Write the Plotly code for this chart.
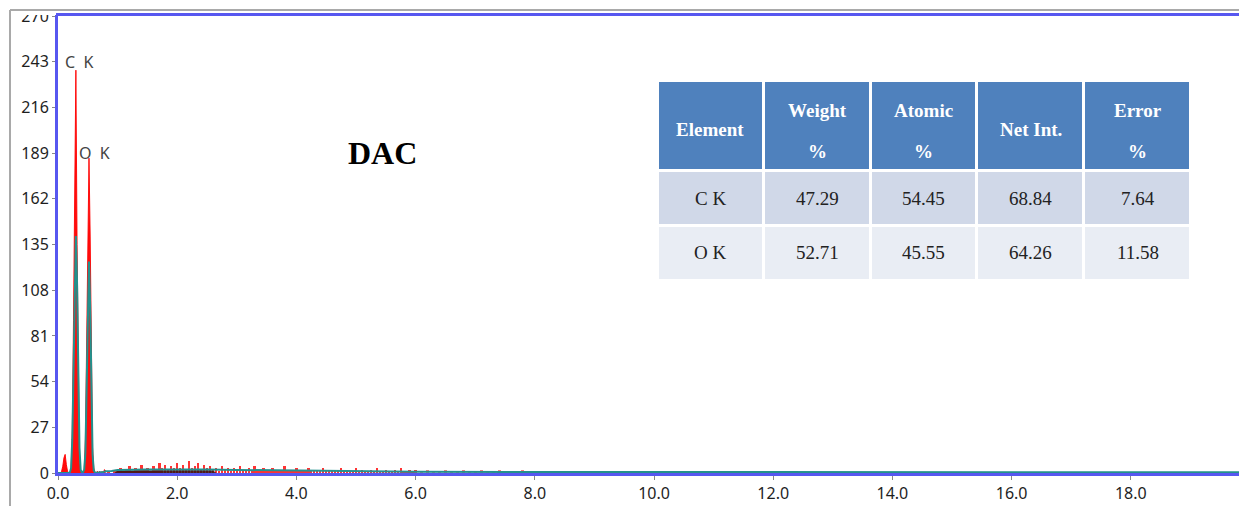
import plotly.graph_objects as go

# ---------------- data ----------------
# fine channels around the C K / O K peaks (keV)
PEAK_E = [0.00, 0.02, 0.04, 0.06, 0.08, 0.10, 0.12, 0.14, 0.16, 0.18,
          0.20, 0.22, 0.24, 0.26, 0.28, 0.30, 0.32, 0.34, 0.36, 0.38,
          0.40, 0.42, 0.44, 0.46, 0.48, 0.50, 0.52, 0.54, 0.56, 0.58,
          0.60, 0.62, 0.64, 0.66, 0.68, 0.70, 0.72, 0.74, 0.76, 0.78,
          0.80]
PEAK_COUNTS = [0, 0, 0, 1, 4, 9, 11, 5, 1, 0,
               0, 2, 25, 90, 165, 238, 135, 45, 8, 1,
               0, 0, 2, 20, 80, 150, 186, 140, 60, 15,
               3, 0, 0, 1, 0, 1, 0, 1, 0, 2,
               1]
PEAK_FIT = [0, 0, 0, 0, 0, 0, 0, 0, 0, 0,
            0.5, 3, 20, 62, 118, 140, 112, 55, 15, 2,
            0.3, 0.5, 2, 12, 52, 105, 125, 98, 45, 11,
            1.5, 0.3, 0.2, 0.2, 0.2, 0.3, 0.4, 0.5, 0.6, 0.8,
            1.0]

NOISE_E1 = [0.85, 0.90, 0.95, 1.00, 1.05, 1.10, 1.15, 1.20, 1.25, 1.30,
            1.35, 1.40, 1.45, 1.50, 1.55, 1.60, 1.65, 1.70, 1.75, 1.80,
            1.85, 1.90, 1.95, 2.00, 2.05, 2.10, 2.15, 2.20, 2.25, 2.30,
            2.35, 2.40, 2.45, 2.50, 2.55, 2.60, 2.65, 2.70, 2.75, 2.80,
            2.85, 2.90, 2.95, 3.00, 3.05, 3.10, 3.15, 3.20, 3.25, 3.30,
            3.35, 3.40, 3.45, 3.50, 3.55, 3.60, 3.65, 3.70, 3.75, 3.80,
            3.85, 3.90, 3.95, 4.00, 4.05, 4.10, 4.15, 4.20, 4.25, 4.30,
            4.35, 4.40, 4.45, 4.50, 4.55, 4.60, 4.65, 4.70, 4.75, 4.80,
            4.85, 4.90, 4.95, 5.00, 5.05, 5.10, 5.15, 5.20, 5.25, 5.30,
            5.35, 5.40, 5.45, 5.50, 5.55, 5.60, 5.65, 5.70, 5.75, 5.80,
            5.85, 5.90, 5.95, 6.00]
NOISE_C1 = [1, 0, 2, 1, 3, 1, 2, 4, 1, 3,
            2, 5, 2, 3, 1, 4, 2, 6, 3, 5,
            2, 4, 3, 6, 3, 5, 2, 7, 3, 4,
            6, 2, 5, 3, 4, 2, 3, 1, 4, 2,
            3, 1, 3, 2, 4, 1, 2, 3, 1, 4,
            2, 1, 3, 2, 1, 3, 2, 1, 2, 4,
            1, 2, 1, 3, 1, 2, 1, 3, 1, 2,
            1, 2, 3, 1, 2, 1, 2, 1, 3, 1,
            2, 1, 1, 3, 1, 2, 1, 1, 2, 1,
            3, 1, 1, 2, 1, 1, 2, 1, 3, 1,
            1, 2, 1, 2]

NOISE_E2 = [6.1, 6.2, 6.3, 6.4, 6.5, 6.6, 6.7, 6.8, 6.9, 7.0,
            7.1, 7.2, 7.3, 7.4, 7.5, 7.6, 7.7, 7.8, 7.9, 8.0,
            8.1, 8.2, 8.3, 8.4, 8.5, 8.6, 8.7, 8.8, 8.9, 9.0,
            9.1, 9.2, 9.3, 9.4, 9.5, 9.6, 9.7, 9.8, 9.9, 10.0,
            10.1, 10.2, 10.3, 10.4, 10.5, 10.6, 10.7, 10.8, 10.9, 11.0,
            11.1, 11.2, 11.3, 11.4, 11.5, 11.6, 11.7, 11.8, 11.9, 12.0,
            12.1, 12.2, 12.3, 12.4, 12.5, 12.6, 12.7, 12.8, 12.9, 13.0,
            13.5, 14.0, 14.5]
NOISE_C2 = [1.2, 2.0, 0.8, 1.0, 1.8, 0.7, 1.1, 1.6, 0.8, 1.0,
            1.5, 0.7, 1.0, 1.6, 0.8, 0.9, 1.0, 1.5, 0.6, 1.0,
            1.4, 0.7, 0.9, 1.3, 0.6, 0.8, 1.2, 0.6, 0.8, 1.2,
            0.7, 0.8, 0.6, 1.2, 0.7, 0.6, 0.8, 1.1, 0.6, 0.7,
            0.8, 0.6, 1.1, 0.6, 0.7, 0.6, 0.8, 1.0, 0.5, 0.6,
            0.7, 0.5, 0.6, 1.0, 0.5, 0.6, 0.5, 0.7, 0.5, 0.6,
            0.5, 0.6, 0.9, 0.5, 0.5, 0.6, 0.5, 0.8, 0.4, 0.5,
            0.3, 0.8, 0.2]

BG_E = [0.90, 1.00, 1.50, 2.00, 2.50, 3.00, 3.50, 4.00, 4.50, 5.00,
        6.00, 8.00, 10.0, 12.0, 14.0, 16.0, 18.0, 19.9]
BG_FIT = [1.2, 1.8, 2.0, 2.1, 2.0, 1.8, 1.6, 1.4, 1.2, 1.0,
          0.8, 0.6, 0.5, 0.4, 0.4, 0.4, 0.4, 0.4]

DARK_E = [0.95, 1.00, 1.20, 1.40, 1.60, 1.80, 2.00, 2.20, 2.40, 2.60, 2.65]
DARK_C = [0.0, 1.3, 1.4, 1.5, 1.6, 1.6, 1.6, 1.5, 1.5, 1.4, 0.0]

Y_TICKS = [0, 27, 54, 81, 108, 135, 162, 189, 216, 243, 270]
X_TICKS = [0, 2, 4, 6, 8, 10, 12, 14, 16, 18]

PEAK_LABELS = ["C\u00a0\u00a0K", "O\u00a0\u00a0K"]
PEAK_LABEL_POS = [(0.085, 243), (0.32, 189)]
SAMPLE = "DAC"

TABLE_HEAD_1 = ["", "Weight", "Atomic", "", "Error"]
TABLE_HEAD_2 = ["", "%", "%", "", "%"]
TABLE_HEAD_SINGLE = ["Element", "", "", "Net Int.", ""]
ELEMENTS = ["C K", "O K"]
WEIGHT = ["47.29", "52.71"]
ATOMIC = ["54.45", "45.55"]
NET_INT = ["68.84", "64.26"]
ERROR = ["7.64", "11.58"]

# ---------------- figure ----------------
W, H = 1239, 506
ML, MR, MT, MB = 58, 0, 16, 33
PW, PH = W - ML - MR, H - MT - MB


def px(xp):
    return (xp - ML) / PW


def py(yp):
    return (H - MB - yp) / PH


fig = go.Figure()
# spectrum: peak region as filled area
fig.add_trace(go.Scatter(x=PEAK_E, y=PEAK_COUNTS, mode="lines", fill="tozeroy",
                         line=dict(color="rgba(255,0,0,0.9)", width=1),
                         fillcolor="rgba(255,0,0,0.95)", hoverinfo="skip"))
# spectrum: noisy continuum as thin spikes
fig.add_trace(go.Bar(x=NOISE_E1, y=NOISE_C1, width=0.04,
                     marker=dict(color="rgba(255,0,0,0.8)", line=dict(width=0)),
                     hoverinfo="skip"))
fig.add_trace(go.Bar(x=NOISE_E2, y=NOISE_C2, width=0.05,
                     marker=dict(color="rgba(255,40,40,0.6)", line=dict(width=0)),
                     hoverinfo="skip"))
fig.add_trace(go.Scatter(x=DARK_E, y=DARK_C, mode="lines", fill="tozeroy",
                         line=dict(color="#3a1515", width=0.5),
                         fillcolor="rgba(50,20,20,0.85)", hoverinfo="skip"))
fig.add_trace(go.Scatter(x=PEAK_E + BG_E, y=PEAK_FIT + BG_FIT, mode="lines",
                         line=dict(color="#23918d", width=2.0), hoverinfo="skip"))

# table cells (geometry); text drawn as annotations for exact placement
tab_x0, tab_x1 = px(657), px(1191)
tab_y0, tab_y1 = py(280), py(80)
fig.add_trace(go.Table(
    domain=dict(x=[tab_x0, tab_x1], y=[tab_y0, tab_y1]),
    columnwidth=[1, 1, 1, 1, 1],
    header=dict(values=[" "] * 5, height=90, fill_color="#4f81bd",
                line=dict(color="white", width=3), font=dict(size=2, color="#4f81bd")),
    cells=dict(values=[[" ", " "]] * 5, height=55,
               fill_color=[["#d0d8e8", "#e9edf4"]] * 5,
               line=dict(color="white", width=3), font=dict(size=2, color="#e9edf4")),
))

annotations = []
col_c = [710, 817, 923.5, 1030.5, 1137.5]
head_font = dict(family="Liberation Serif", size=19, color="white")
body_font = dict(family="Liberation Serif", size=19, color="#222222")


def paper_text(x, y, text, font):
    return dict(x=px(x), y=py(y), xref="paper", yref="paper", text=text,
                showarrow=False, xanchor="center", yanchor="middle", font=font)


for i, cx in enumerate(col_c):
    if TABLE_HEAD_SINGLE[i]:
        annotations.append(paper_text(cx, 129, "<b>%s</b>" % TABLE_HEAD_SINGLE[i], head_font))
    if TABLE_HEAD_1[i]:
        annotations.append(paper_text(cx, 110, "<b>%s</b>" % TABLE_HEAD_1[i], head_font))
        annotations.append(paper_text(cx, 151, "<b>%s</b>" % TABLE_HEAD_2[i], head_font))
rows = [ELEMENTS, WEIGHT, ATOMIC, NET_INT, ERROR]
for i, cx in enumerate(col_c):
    for j, ry in enumerate([198, 253]):
        annotations.append(paper_text(cx, ry, rows[i][j], body_font))

for lab, (lx, ly) in zip(PEAK_LABELS, PEAK_LABEL_POS):
    annotations.append(dict(x=lx, y=ly, xref="x", yref="y", text=lab, showarrow=False,
                            xanchor="left", yanchor="middle",
                            font=dict(family="Noto Sans", size=16, color="#444444")))
annotations.append(dict(x=5.45, y=189, xref="x", yref="y", text="<b>%s</b>" % SAMPLE,
                        showarrow=False, xanchor="center", yanchor="middle",
                        font=dict(family="Liberation Serif", size=32, color="black")))

shapes = [
    # white patch clipping the top tick label
    dict(type="rect", xref="paper", yref="paper", x0=px(12), x1=px(56), y0=py(15), y1=py(0),
         fillcolor="white", line=dict(width=0), layer="above"),
    # outer grey frame
    dict(type="line", xref="paper", yref="paper", x0=px(10), x1=px(10), y0=py(506), y1=py(10),
         line=dict(color="#a9a9a9", width=2), layer="above"),
    dict(type="line", xref="paper", yref="paper", x0=px(10), x1=px(1239), y0=py(10), y1=py(10),
         line=dict(color="#a9a9a9", width=2), layer="above"),
]

axis_font = dict(family="Noto Sans", size=16, color="#1e1e1e")
fig.update_layout(
    width=W, height=H,
    margin=dict(l=ML, r=MR, t=MT, b=MB, pad=0),
    paper_bgcolor="white", plot_bgcolor="white",
    showlegend=False, barmode="overlay", bargap=0,
    annotations=annotations,
    shapes=shapes,
    xaxis=dict(range=[0, PW / 59.6], tickvals=X_TICKS,
               ticktext=["%.1f" % v for v in X_TICKS],
               showgrid=False, zeroline=False, showline=True, mirror=True,
               linecolor="#5757f0", linewidth=3, ticks="outside", ticklen=4,
               tickcolor="#888888", tickfont=axis_font),
    yaxis=dict(range=[0, 270], tickvals=Y_TICKS, showgrid=False, zeroline=False,
               showline=True, mirror=False, linecolor="#5757f0", linewidth=3,
               ticks="outside", ticklen=3, tickcolor="#888888", tickfont=axis_font),
)

fig.write_html("out.html")
